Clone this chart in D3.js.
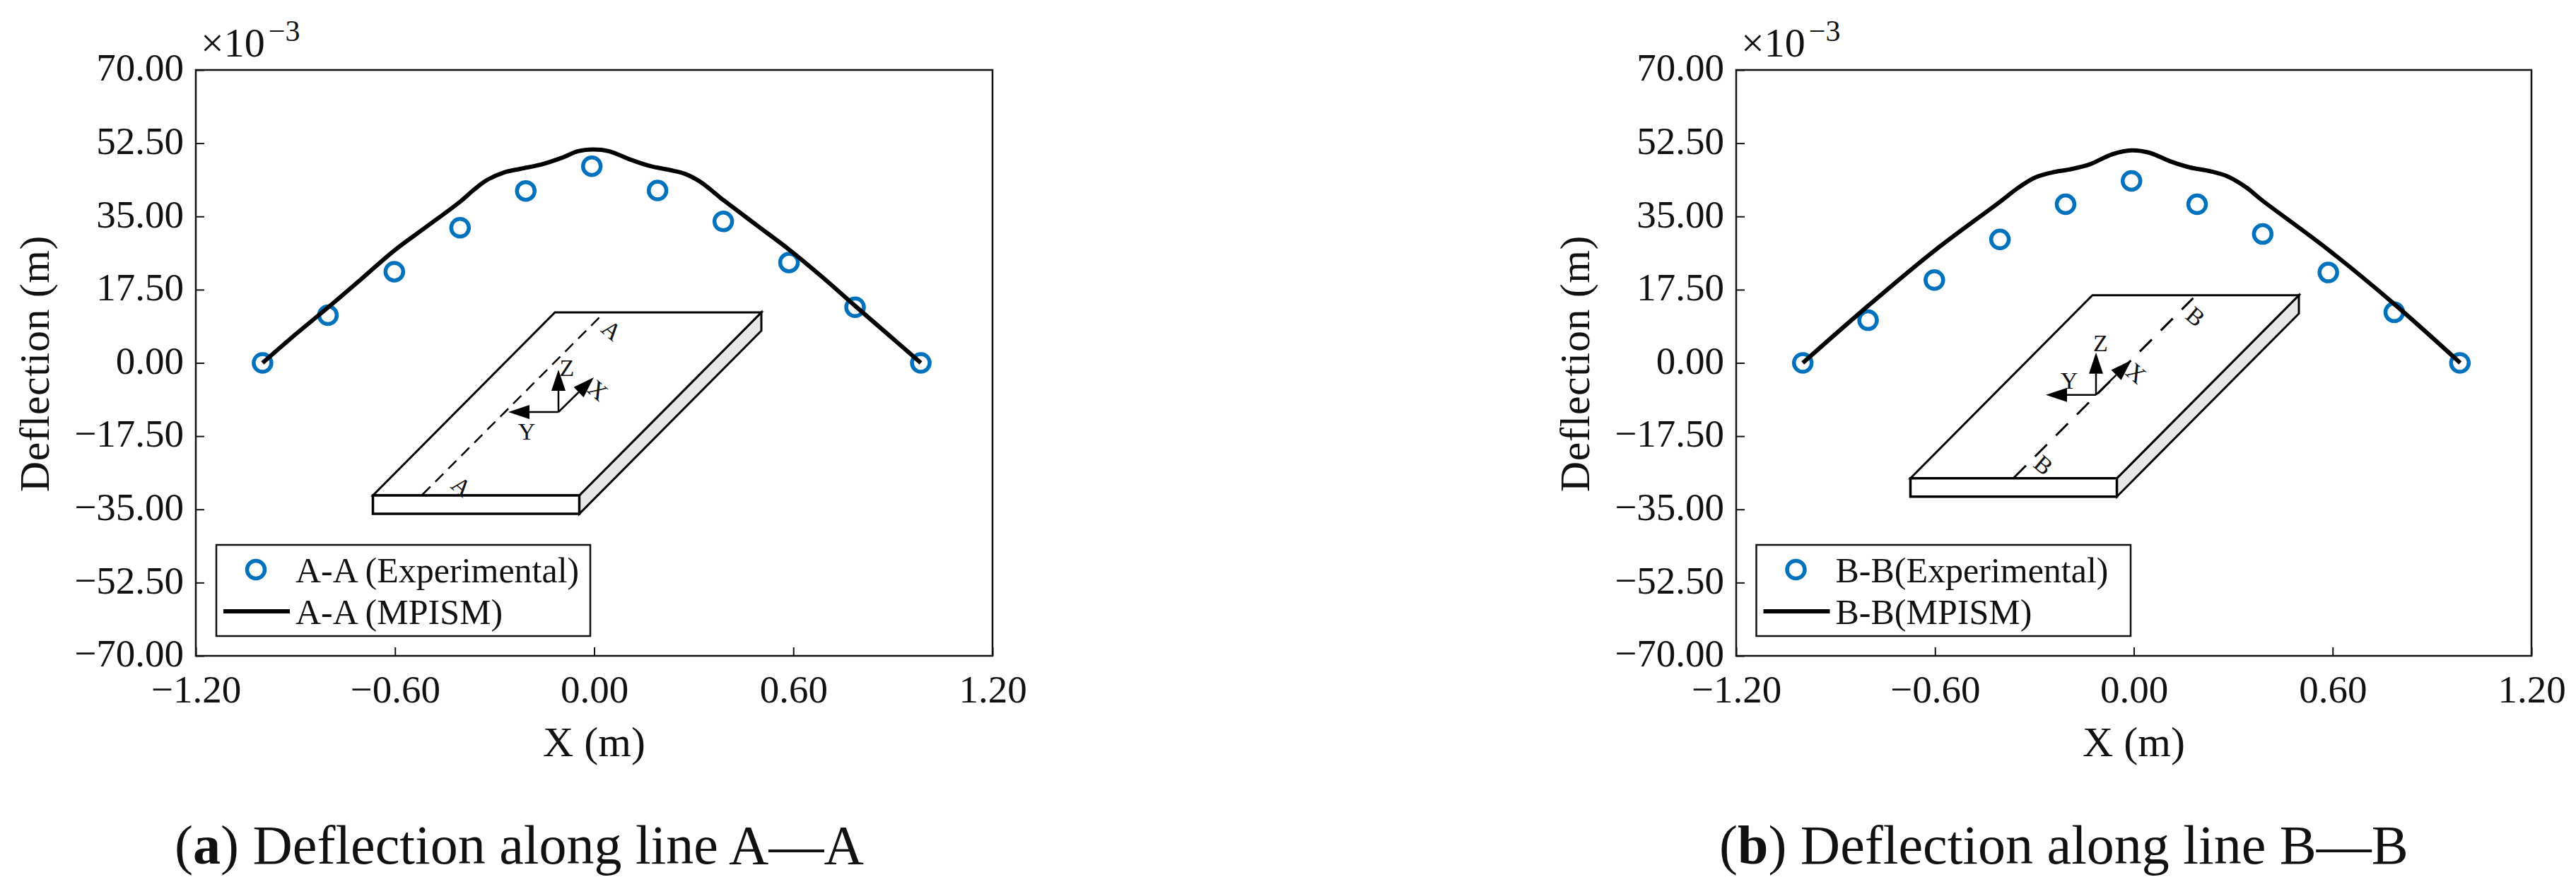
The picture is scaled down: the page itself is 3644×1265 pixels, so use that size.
<!DOCTYPE html>
<html>
<head>
<meta charset="utf-8">
<script src="https://cdn.jsdelivr.net/npm/d3@7"></script>
<style>
  html, body { margin: 0; background: #fff; }
  svg { display: block; }
  text { font-family: "Liberation Serif", serif; fill: #111; }
</style>
</head>
<body>
<script>
'use strict';

// tick values and their printed labels
const xTicks = [-1.2, -0.6, 0, 0.6, 1.2];
const xTickLabels = ["\u22121.20", "\u22120.60", "0.00", "0.60", "1.20"];
const yTicks = [-70, -52.5, -35, -17.5, 0, 17.5, 35, 52.5, 70];
const yTickLabels = ["\u221270.00", "\u221252.50", "\u221235.00", "\u221217.50", "0.00", "17.50", "35.00", "52.50", "70.00"];

// experimental points, same x for both panels
// (the plotted points sit slightly left of the ticks in the original)
const expX = [-0.999, -0.802, -0.602, -0.404, -0.206, -0.007, 0.191, 0.389, 0.587, 0.786, 0.984];
const expA = [0, 11.4, 21.8, 32.3, 41.1, 47.0, 41.2, 33.8, 24.0, 13.3, 0];
const expB = [0, 10.2, 19.8, 29.5, 37.9, 43.5, 37.9, 30.8, 21.6, 12.1, 0];

// MPISM curves
const lineAX = [-0.999, -0.9, -0.801, -0.702, -0.603, -0.504, -0.404, -0.365, -0.323, -0.272, -0.221, -0.16, -0.098, -0.048, -0.003, 0.044, 0.105, 0.166, 0.227, 0.273, 0.319, 0.391, 0.488, 0.587, 0.686, 0.785, 0.884, 0.984];
const lineAY = [0, 6.8, 13.3, 20.0, 26.8, 32.6, 38.5, 41.2, 43.7, 45.5, 46.4, 47.4, 49.0, 50.6, 51.0, 50.6, 48.7, 47.1, 46.1, 45.2, 43.3, 38.8, 33.0, 27.1, 20.6, 13.7, 6.9, 0];
const lineBX = [-0.999, -0.801, -0.602, -0.404, -0.348, -0.298, -0.247, -0.196, -0.135, -0.064, -0.007, 0.048, 0.109, 0.17, 0.231, 0.282, 0.338, 0.388, 0.586, 0.787, 0.985];
const lineBY = [0, 13.7, 26.8, 38.5, 41.9, 44.3, 45.5, 46.2, 47.4, 49.9, 50.8, 50.2, 48.2, 46.7, 45.8, 44.6, 42.0, 38.8, 27.1, 14.0, 0];

const legendA = ["A-A (Experimental)", "A-A (MPISM)"];
const legendB = ["B-B(Experimental)", "B-B(MPISM)"];

const blue = "#0072BD";
const svg = d3.select("body").append("svg")
  .attr("width", 3644)
  .attr("height", 1265);

// draw one panel, g is placed at the left/top of the frame
function drawPanel(p) {
  const width = p.right - p.left;
  const height = 829;
  const g = svg.append("g").attr("transform", `translate(${p.left},99)`);

  const x = d3.scaleLinear().domain([-1.2, 1.2]).range([0, width]);
  const y = d3.scaleLinear().domain([-70, 70]).range([height, 0]);

  drawInset(g.append("g").attr("transform", `translate(${p.inset[0] - p.left},${p.inset[1] - 99})`), p);

  // axes, ticks point inward and there are none on top/right
  const xAxis = d3.axisBottom(x).tickValues(xTicks).tickSize(-12).tickPadding(26.5)
    .tickFormat((d, i) => xTickLabels[i]);
  const yAxis = d3.axisLeft(y).tickValues(yTicks).tickSize(-12).tickPadding(17)
    .tickFormat((d, i) => yTickLabels[i]);

  const gx = g.append("g").attr("transform", `translate(0,${height})`).call(xAxis);
  const gy = g.append("g").call(yAxis);
  [gx, gy].forEach(a => {
    a.select(".domain").remove();
    a.selectAll("line").attr("stroke", "#111").attr("stroke-width", 2);
    a.selectAll("text").style("font-size", "55px").attr("fill", "#111")
      .style("font-family", '"Liberation Serif", serif');
  });
  gy.selectAll("text").attr("dy", "0.27em");

  g.append("rect")
    .attr("width", width)
    .attr("height", height)
    .attr("fill", "none")
    .attr("stroke", "#111")
    .attr("stroke-width", 2.5);

  g.selectAll("circle.exp")
    .data(p.expY)
    .enter()
    .append("circle")
      .attr("class", "exp")
      .attr("cx", (d, i) => x(expX[i]))
      .attr("cy", d => y(d))
      .attr("r", 12.5)
      .attr("fill", "none")
      .attr("stroke", blue)
      .attr("stroke-width", 5.5);

  const line = d3.line()
    .x(d => x(d[0]))
    .y(d => y(d[1]))
    .curve(d3.curveCatmullRom.alpha(0.5));
  g.append("path")
    .datum(d3.zip(p.lineX, p.lineY))
    .attr("d", line)
    .attr("fill", "none")
    .attr("stroke", "#000")
    .attr("stroke-width", 6);

  // x10^-3 above the frame
  const exp = g.append("text").attr("x", 7).attr("y", -19).style("font-size", "58px");
  exp.append("tspan").text("\u00d710");
  exp.append("tspan").attr("dx", 5).attr("dy", -22).style("font-size", "42px").text("\u22123");

  g.append("text")
    .attr("x", width / 2)
    .attr("y", 971)
    .attr("text-anchor", "middle")
    .style("font-size", "60px")
    .text("X (m)");

  g.append("text")
    .attr("transform", `translate(-208,${height / 2 + 1})rotate(-90)`)
    .attr("text-anchor", "middle")
    .style("font-size", "60px")
    .style("letter-spacing", "0.6px")
    .text("Deflection (m)");

  // legend
  const lg = g.append("g").attr("transform", `translate(${p.legendLeft - p.left},672)`);
  lg.append("rect")
    .attr("width", p.legendWidth)
    .attr("height", 129)
    .attr("fill", "#fff")
    .attr("stroke", "#111")
    .attr("stroke-width", 2.5);
  lg.append("circle")
    .attr("cx", 56)
    .attr("cy", 35)
    .attr("r", 12.5)
    .attr("fill", "none")
    .attr("stroke", blue)
    .attr("stroke-width", 5.5);
  lg.append("line")
    .attr("x1", 10)
    .attr("x2", 104)
    .attr("y1", 94)
    .attr("y2", 94)
    .attr("stroke", "#000")
    .attr("stroke-width", 6);
  lg.selectAll("text")
    .data(p.legend)
    .enter()
    .append("text")
      .attr("x", 112)
      .attr("y", (d, i) => 53 + i * 59)
      .style("font-size", "50px")
      .text(d => d);

  // caption below
  const cap = svg.append("text")
    .attr("x", p.captionX)
    .attr("y", 1222)
    .style("font-size", "78px");
  cap.append("tspan").text("(");
  cap.append("tspan").style("font-weight", "bold").text(p.tag);
  cap.append("tspan").text(") " + p.caption);
}

// the small plate sketch, local origin is the front-left corner of the plate
function drawInset(g, p) {
  const poly = (pts, fill, sw) => g.append("polygon")
    .attr("points", pts.join(" "))
    .attr("fill", fill)
    .attr("stroke", "#000")
    .attr("stroke-width", sw)
    .attr("stroke-linejoin", "miter");

  poly([[292, 0], [549.5, -259], [549.5, -233], [292, 26]], "#e8e8e8", 3);
  poly([[0, 0], [257.5, -259], [549.5, -259], [292, 0]], "#fff", 3);
  poly([[0, 0], [292, 0], [292, 26], [0, 26]], "#fff", 3.5);

  g.append("line")
    .attr("x1", p.dash[0]).attr("y1", p.dash[1])
    .attr("x2", p.dash[2]).attr("y2", p.dash[3])
    .attr("stroke", "#000")
    .attr("stroke-width", p.dashWidth)
    .attr("stroke-dasharray", p.dashPattern);

  const o = [262.5, -118];
  const arrow = (tip) => {
    const dx = tip[0] - o[0], dy = tip[1] - o[1];
    const len = Math.hypot(dx, dy);
    const ux = dx / len, uy = dy / len;
    const bx = tip[0] - ux * 30, by = tip[1] - uy * 30;
    g.append("line")
      .attr("x1", o[0]).attr("y1", o[1])
      .attr("x2", bx).attr("y2", by)
      .attr("stroke", "#000")
      .attr("stroke-width", 2.5);
    g.append("polygon")
      .attr("points", [tip, [bx - uy * 10, by + ux * 10], [bx + uy * 10, by - ux * 10]].join(" "))
      .attr("fill", "#000");
  };
  arrow([262.5, -178]);
  arrow([312.5, -167]);
  arrow([191.5, -118]);

  g.selectAll("text")
    .data(p.insetLabels)
    .enter()
    .append("text")
      .attr("transform", d => `translate(${d[1]},${d[2]})rotate(${d[3]})`)
      .attr("text-anchor", "middle")
      .attr("dy", "0.35em")
      .style("font-size", "34px")
      .text(d => d[0]);
}

drawPanel({
  left: 277, right: 1404,
  expY: expA, lineX: lineAX, lineY: lineAY,
  legend: legendA, legendLeft: 306, legendWidth: 529,
  tag: "a", caption: "Deflection along line A\u2014A", captionX: 247,
  inset: [527.5, 701],
  dash: [70, -1, 320.5, -252], dashWidth: 2.5, dashPattern: "16 10",
  insetLabels: [["A", 338, -234, 40], ["A", 125.5, -13, 40], ["Z", 274.5, -181, 0], ["X", 318.5, -149, 40], ["Y", 217.5, -91, 0]]
});

drawPanel({
  left: 2456, right: 3581,
  expY: expB, lineX: lineBX, lineY: lineBY,
  legend: legendB, legendLeft: 2484.5, legendWidth: 529.5,
  tag: "b", caption: "Deflection along line B\u2014B", captionX: 2432,
  inset: [2702.5, 676.7],
  dash: [146.5, -1, 400, -255], dashWidth: 3, dashPattern: "24 18",
  insetLabels: [["B", 403.5, -229, 40], ["B", 188.5, -19, 40], ["Z", 269, -192, 0], ["X", 319.5, -149, 40], ["Y", 224.5, -139, 0]]
});
</script>
</body>
</html>
